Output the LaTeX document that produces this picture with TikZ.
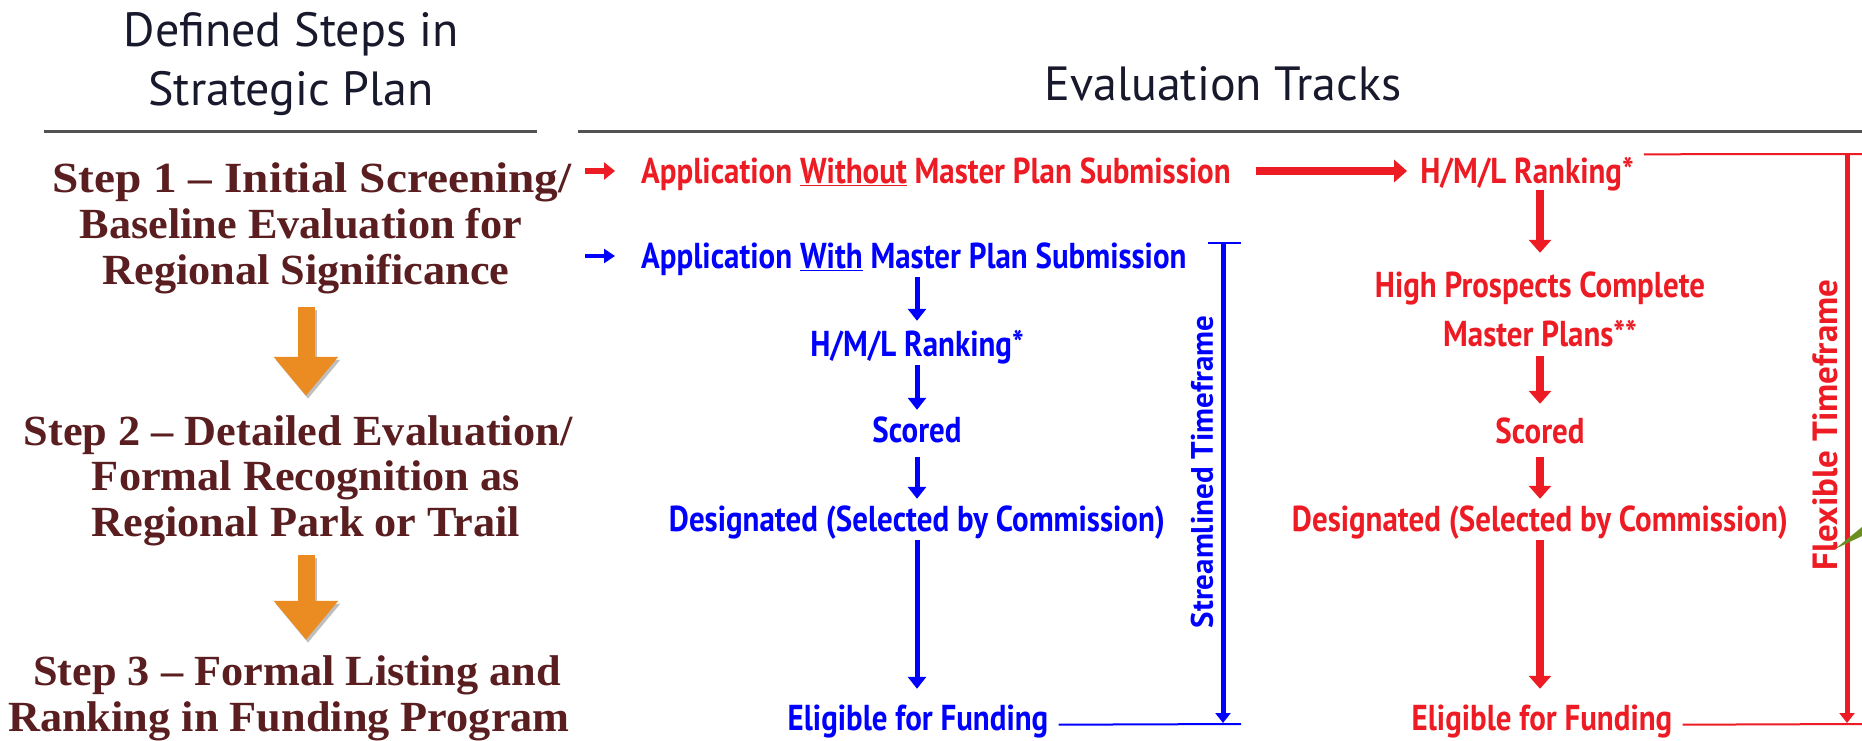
\documentclass[tikz,border=0pt]{standalone}
\usepackage{fontspec}
\setmainfont{Liberation Serif}
\newfontfamily\stepfont[FakeStretch=1.03,Ligatures=TeX]{Liberation Serif}
\newfontfamily\hand[FakeStretch=0.86]{PT Sans}
\newfontfamily\handwide{PT Sans}
\usetikzlibrary{arrows.meta}
\definecolor{myred}{RGB}{237,28,36}
\definecolor{myblue}{RGB}{0,0,255}
\definecolor{stepc}{RGB}{90,30,32}
\definecolor{headc}{RGB}{25,25,45}
\definecolor{orangearr}{RGB}{235,140,35}
\definecolor{leafgreen}{RGB}{107,142,35}
\tikzset{
 hd/.style={font=\handwide\fontsize{48}{52}\selectfont, text=headc, inner sep=0},
 trk/.style={font=\handwide\fontsize{48}{52}\selectfont, text=headc, inner sep=0},
 stepline/.style={font=\stepfont\bfseries\fontsize{43}{46}\selectfont, text=stepc, inner sep=0, text height=29pt, text depth=0pt},
 bt/.style={font=\hand\bfseries\fontsize{36}{40}\selectfont, text=myblue, inner sep=0, text height=25pt, text depth=0pt},
 rt/.style={bt, text=myred},
 hline/.style={draw=black!68, line width=3pt},
 barr/.style={draw=myblue, line width=5pt, -{Triangle[width=18pt,length=12pt]}},
 rarr/.style={draw=myred, line width=8pt, -{Triangle[width=22pt,length=13pt]}},
 bsmall/.style={draw=myblue, line width=4pt, -{Triangle[width=14pt,length=11pt]}},
 rsmall/.style={draw=myred, line width=6pt, -{Triangle[width=17pt,length=11pt]}},
 bthin/.style={draw=myblue, line width=2pt},
 rthin/.style={draw=myred, line width=2pt},
 oarr/.style={draw=orangearr, line width=17pt, -{Triangle[width=62pt,length=39pt]}},
 oshadow/.style={draw=black, opacity=0.25, line width=17pt, -{Triangle[width=62pt,length=39pt]}},
 rot/.style={inner sep=0, rotate=90},
}
\begin{document}
\begin{tikzpicture}[x=1pt,y=-1pt]
\useasboundingbox (0,0) rectangle (1862,741);
\fill[white] (0,0) rectangle (1862,741);

% headings
\node[hd] (hd1) at (291,34) {Defined Steps in};
\node[hd] (hd2) at (291,94) {Strategic Plan};
\node[trk] (trk) at (1223,84) {Evaluation Tracks};
\coordinate (l1a) at (44,132); \coordinate (l1b) at (537,132);
\coordinate (l2a) at (578,132); \coordinate (l2b) at (1862,132);
\draw[hline] (l1a) -- (l1b);
\draw[hline] (l2a) -- (l2b);

% steps
\node[stepline] (s1a) at (312,178) {\addfontfeatures{FakeStretch=1.10}Step 1 – Initial Screening/};
\node[stepline] (s1b) at (301,224) {Baseline Evaluation for};
\node[stepline] (s1c) at (306,270) {Regional Significance};
\node[stepline] (s2a) at (298,431) {Step 2 – Detailed Evaluation/};
\node[stepline] (s2b) at (306,476) {Formal Recognition as};
\node[stepline] (s2c) at (306,522) {Regional Park or Trail};
\node[stepline] (s3a) at (297,671) {Step 3 – Formal Listing and};
\node[stepline] (s3b) at (289,717) {Ranking in Funding Program};

\draw[oshadow, shorten <=22pt, shorten >=20.5pt, transform canvas={xshift=2pt,yshift=-3pt}] (s1c.south) -- (s1c.south |- s2a.north);
\draw[oarr, shorten <=22pt, shorten >=20.5pt] (s1c.south) -- (s1c.south |- s2a.north);
\draw[oshadow, shorten <=18pt, shorten >=16.5pt, transform canvas={xshift=2pt,yshift=-3pt}] (s2c.south) -- (s2c.south |- s3a.north);
\draw[oarr, shorten <=18pt, shorten >=16.5pt] (s2c.south) -- (s2c.south |- s3a.north);

% red track
\coordinate (rs) at (585,171);
\node[rt, anchor=west] (rwo) at (641,171) {Application \underline{Without} Master Plan Submission};
\draw[rsmall, shorten >=26pt] (rs) -- (rwo.west);
\node[rt] (rhml) at (1527,171) {H/M/L Ranking*};
\draw[rarr, shorten <=25pt, shorten >=13pt] (rwo.east) -- (rhml.west);
\node[rt] (rhigh1) at (1540,285) {High Prospects Complete};
\node[rt] (rhigh2) at (1540,334) {Master Plans**};
\node[rt] (rsc) at (1540,431) {Scored};
\node[rt] (rdes) at (1540,519) {Designated (Selected by Commission)};
\node[rt] (relig) at (1542,718) {Eligible for Funding};
\draw[rarr, shorten <=6.5pt, shorten >=19.5pt] (rhml.south -| rhigh1.north) -- (rhigh1.north);
\draw[rarr, shorten <=9.5pt, shorten >=14.5pt] (rhigh2.south -| rsc.north) -- (rsc.north);
\draw[rarr, shorten <=13.5pt, shorten >=7.5pt] (rsc.south) -- (rsc.south |- rdes.north);
\draw[rarr, shorten <=8.5pt, shorten >=16.5pt] (rsc.south |- rdes.south) -- (rsc.south |- relig.north);

% blue track
\coordinate (bs) at (585,256);
\node[bt, anchor=west] (bapp) at (641,256) {Application \underline{With} Master Plan Submission};
\draw[bsmall, shorten >=26pt] (bs) -- (bapp.west);
\node[bt] (bhml) at (917,344) {H/M/L Ranking*};
\node[bt] (bsc) at (917,430) {Scored};
\node[bt] (bdes) at (917,519) {Designated (Selected by Commission)};
\node[bt] (belig) at (918,718) {Eligible for Funding};
\draw[barr, shorten <=8.5pt, shorten >=10.5pt] (bhml.north |- bapp.south) -- (bhml.north);
\draw[barr, shorten <=8.5pt, shorten >=7.5pt] (bhml.south) -- (bsc.north);
\draw[barr, shorten <=14.5pt, shorten >=7.5pt] (bsc.south) -- (bsc.south |- bdes.north);
\draw[barr, shorten <=8.5pt, shorten >=16.5pt] (bsc.south |- bdes.south) -- (bsc.south |- belig.north);

% blue timeframe bracket
\coordinate (bt1) at (1208,243); \coordinate (bt2) at (1241,243);
\coordinate (bv1) at (1223,243); \coordinate (bv2) at (1223,723);
\coordinate (bb2) at (1241,724);
\draw[bthin] (bt1) -- (bt2);
\draw[draw=myblue, line width=5pt, -{Triangle[width=15pt,length=10pt]}] (bv1) -- (bv2);
\draw[bthin] ([xshift=10pt,yshift=6pt]belig.south east) -- (bb2);
\node[rot, text=myblue, font=\handwide\bfseries\fontsize{31}{34}\selectfont] (stf) at (1202,472) {Streamlined Timeframe};

% red timeframe bracket
\coordinate (rt2) at (1862,154);
\coordinate (rv1) at (1847,154); \coordinate (rv2) at (1847,723);
\coordinate (rb2) at (1862,724);
\draw[rthin] ([xshift=10pt,yshift=4pt]rhml.north east) -- (rt2);
\draw[draw=myred, line width=5pt, -{Triangle[width=15pt,length=10pt]}] (rv1) -- (rv2);
\draw[rthin] ([xshift=10pt,yshift=6pt]relig.south east) -- (rb2);
\node[rot, text=myred, font=\handwide\bfseries\fontsize{35}{38}\selectfont] (ftf) at (1825,425) {Flexible Timeframe};

% green leaf fragment at the edge
\fill[leafgreen] (1835,549) -- (1862,527) -- (1862,536) -- cycle;
\end{tikzpicture}
\end{document}
